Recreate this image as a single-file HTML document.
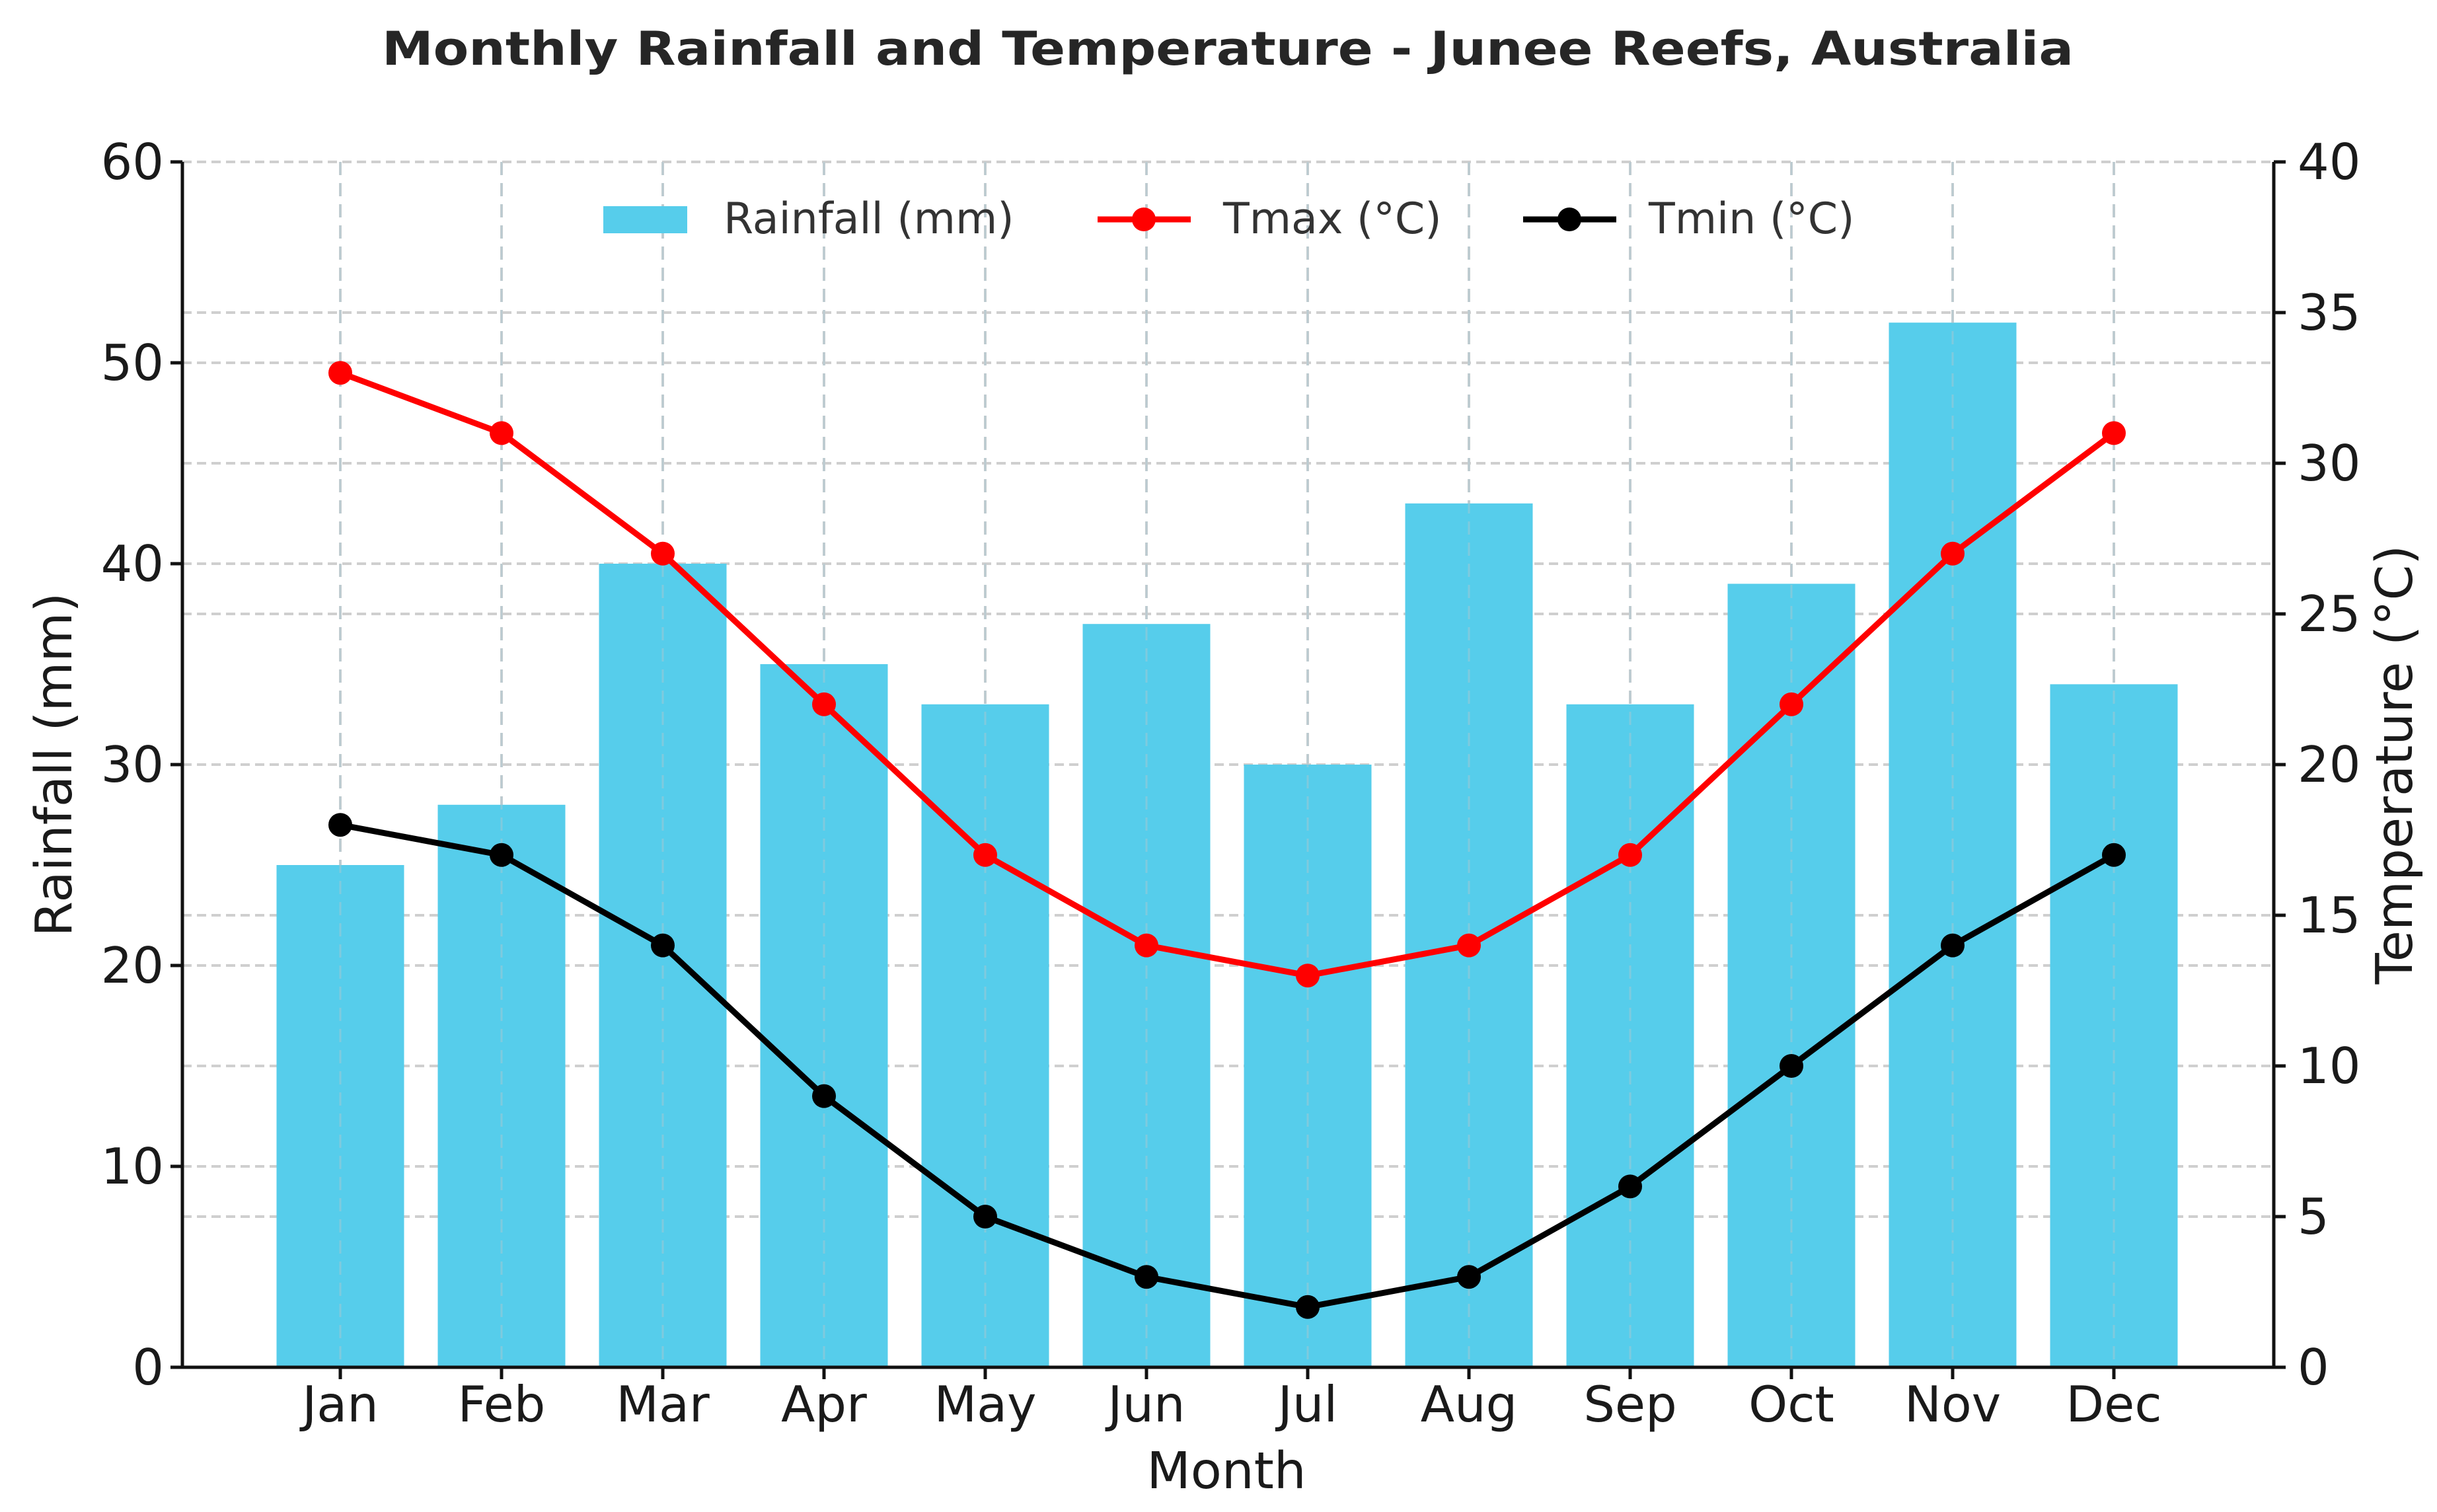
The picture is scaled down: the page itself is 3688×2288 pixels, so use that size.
<!DOCTYPE html>
<html><head><meta charset="utf-8"><style>
html,body{margin:0;padding:0;background:#fff}
svg{display:block}
text{font-family:"DejaVu Sans","Liberation Sans",sans-serif}
</style></head><body>
<svg id="chart" xmlns="http://www.w3.org/2000/svg" width="3688" height="2288" viewBox="0 0 3688 2288">
<rect width="3688" height="2288" fill="#fff"/>
<text x="1858" y="98" text-anchor="middle" font-size="70" font-weight="bold" fill="#262626" textLength="2560" lengthAdjust="spacingAndGlyphs">Monthly Rainfall and Temperature - Junee Reefs, Australia</text>
<g id="grid"></g>
<g id="bars"></g>
<g id="lines"></g>
<g id="axes"></g>
<g id="legend">
<rect x="913" y="312" width="127" height="41" fill="#56CDEB"/>
<text x="1095" y="353" font-size="65" fill="#333">Rainfall (mm)</text>
<line x1="1661" y1="332" x2="1802" y2="332" stroke="#ff0000" stroke-width="9"/>
<circle cx="1731" cy="332" r="18" fill="#ff0000"/>
<text x="1851" y="353" font-size="65" fill="#333">Tmax (°C)</text>
<line x1="2305" y1="332" x2="2446" y2="332" stroke="#000" stroke-width="9"/>
<circle cx="2375" cy="332" r="18" fill="#000"/>
<text x="2495" y="353" font-size="65" fill="#333">Tmin (°C)</text>
</g>
<text x="1856" y="2252" text-anchor="middle" font-size="77" fill="#1a1a1a">Month</text>
<text transform="translate(108,1157) rotate(-90)" text-anchor="middle" font-size="77" fill="#1a1a1a">Rainfall (mm)</text>
<text transform="translate(3650,1157) rotate(-90)" text-anchor="middle" font-size="77" fill="#1a1a1a">Temperature (°C)</text>
</svg>
<script>
const months = ["Jan","Feb","Mar","Apr","May","Jun","Jul","Aug","Sep","Oct","Nov","Dec"];
const rainfall = [25,28,40,35,33,37,30,43,33,39,52,34];
const tmax = [33,31,27,22,17,14,13,14,17,22,27,31];
const tmin = [18,17,14,9,5,3,2,3,6,10,14,17];
const rainTicks = [0,10,20,30,40,50,60];
const tempTicks = [0,5,10,15,20,25,30,35,40];

const NS = "http://www.w3.org/2000/svg";
const L = 276, R = 3441, T = 245, B = 2069;
const X0 = 515, STEP = 244, BARW = 193;
function xPos(i){ return X0 + i*STEP; }
function yRain(v){ return B - (v/60)*(B-T); }
function yTemp(v){ return B - (v/40)*(B-T); }
function mk(tag, attrs, parent){
  const e = document.createElementNS(NS, tag);
  for (const k in attrs) e.setAttribute(k, attrs[k]);
  parent.appendChild(e);
  return e;
}
const grid = document.getElementById('grid');
const bars = document.getElementById('bars');
const lines = document.getElementById('lines');
const axes = document.getElementById('axes');

rainTicks.forEach(v => {
  const g = mk('line', {x1:L, x2:R, y1:yRain(v), y2:yRain(v), stroke:'#cfcfcf', 'stroke-width':4, 'stroke-dasharray':'14 8'}, grid);
  
  
});
tempTicks.forEach(v => {
  const g = mk('line', {x1:L, x2:R, y1:yTemp(v), y2:yTemp(v), stroke:'#cfcfcf', 'stroke-width':4, 'stroke-dasharray':'14 8'}, grid);
  
  
});
months.forEach((m, i) => {
  const g = mk('line', {x1:xPos(i), x2:xPos(i), y1:T, y2:B, stroke:'#cfcfcf', 'stroke-width':4, 'stroke-dasharray':'20 12'}, grid);
  
  
});

rainfall.forEach((v, i) => {
  const b = mk('rect', {x:xPos(i)-BARW/2, y:yRain(v), width:BARW, height:B-yRain(v), fill:'#56CDEB'}, bars);
  
  
});
months.forEach((m, i) => {
  const g = mk('line', {x1:xPos(i), x2:xPos(i), y1:T, y2:B, stroke:'#a9c9d3', 'stroke-width':3, 'stroke-dasharray':'20 12', opacity:0.5}, bars);
  
  
});

function series(vals, color, name){
  const pts = vals.map((v,i) => xPos(i) + ',' + yTemp(v)).join(' ');
  const pl = mk('polyline', {points:pts, fill:'none', stroke:color, 'stroke-width':9, 'stroke-linejoin':'round'}, lines);
  
  
  vals.forEach((v,i) => {
    const c = mk('circle', {cx:xPos(i), cy:yTemp(v), r:18, fill:color}, lines);
    
    
  });
}
series(tmax, '#ff0000', 'tmax');
series(tmin, '#000000', 'tmin');

const fr = mk('path', {d:`M${L},${T} L${L},${B} L${R},${B} L${R},${T}`, fill:'none', stroke:'#111', 'stroke-width':5}, axes);



rainTicks.forEach(v => {
  const t = mk('line', {x1:L-18, x2:L, y1:yRain(v), y2:yRain(v), stroke:'#111', 'stroke-width':5}, axes);
  
  
  const tx = mk('text', {x:L-28, y:yRain(v)+26, 'text-anchor':'end', 'font-size':75, fill:'#1a1a1a'}, axes);
  tx.textContent = v;
  
  
});
tempTicks.forEach(v => {
  const t = mk('line', {x1:R, x2:R+18, y1:yTemp(v), y2:yTemp(v), stroke:'#111', 'stroke-width':5}, axes);
  
  
  const tx = mk('text', {x:R+36, y:yTemp(v)+26, 'text-anchor':'start', 'font-size':75, fill:'#1a1a1a'}, axes);
  tx.textContent = v;
  
  
});
months.forEach((m, i) => {
  const t = mk('line', {x1:xPos(i), x2:xPos(i), y1:B, y2:B+18, stroke:'#111', 'stroke-width':5}, axes);
  
  
  const tx = mk('text', {x:xPos(i), y:B+82, 'text-anchor':'middle', 'font-size':75, fill:'#1a1a1a'}, axes);
  tx.textContent = m;
  
  
});
</script>
</body></html>
